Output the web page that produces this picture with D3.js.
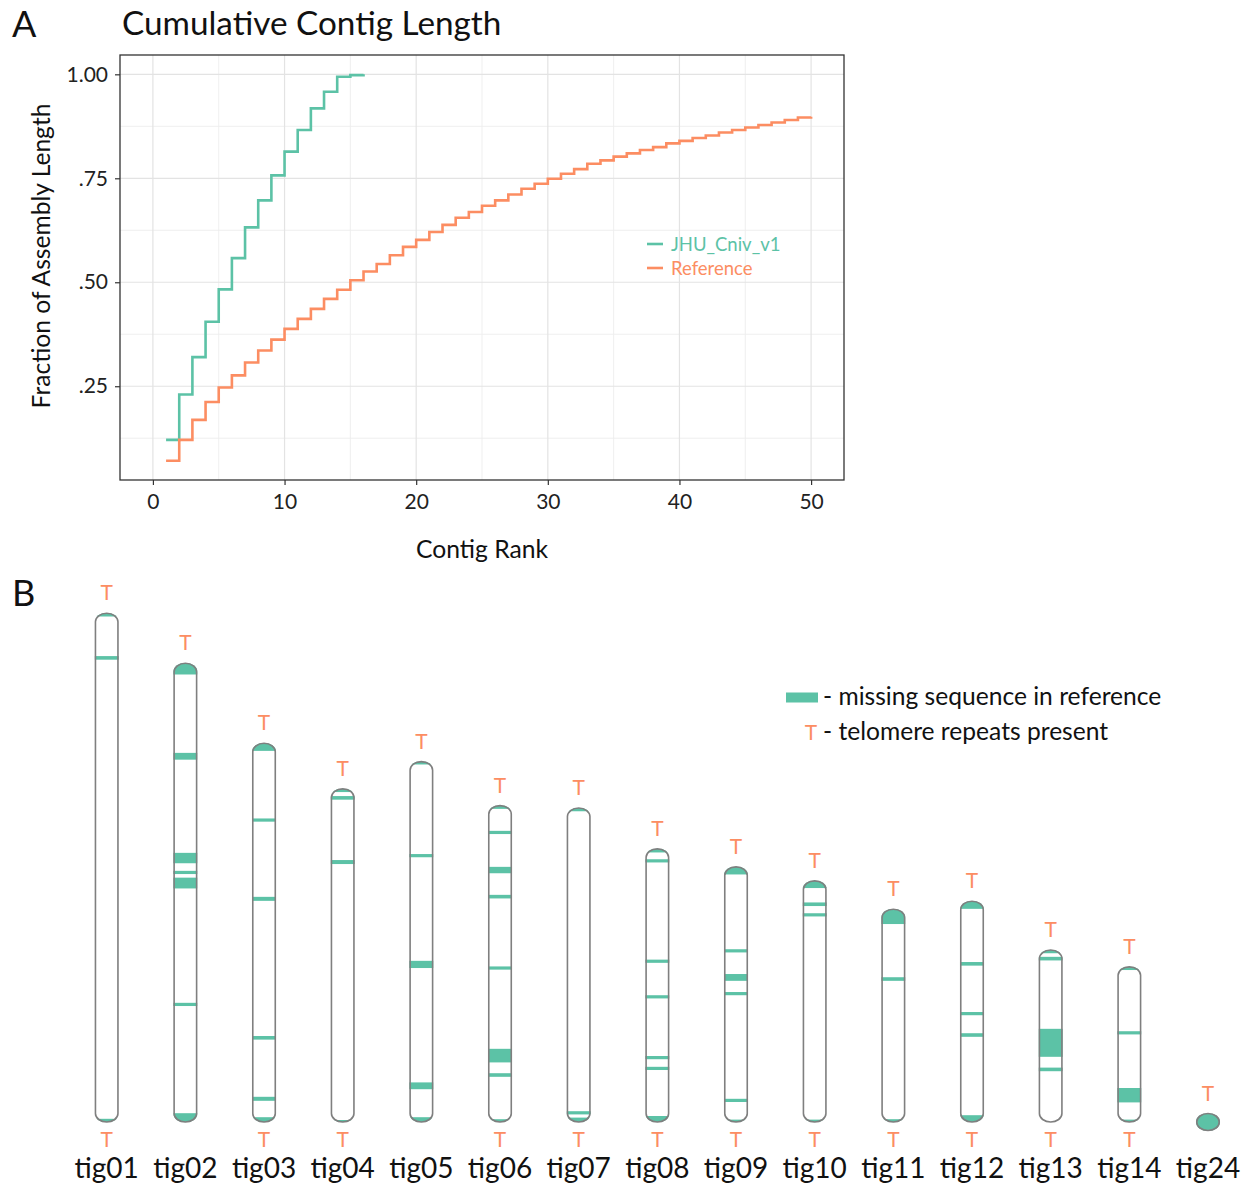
<!DOCTYPE html>
<html><head><meta charset="utf-8">
<script src="https://cdn.jsdelivr.net/npm/d3@7"></script>
<style>
body{margin:0;background:#fff;}
svg text{font-family:Lato,"Open Sans",sans-serif;}
</style>
</head><body>
<svg id="chart" width="1249" height="1187"></svg>
<script>
// ---------- Panel A data ----------
const seriesNames = ["JHU_Cniv_v1", "Reference"];
const seriesColors = ["#5cc2a6", "#fc8d62"];
const jhuValues = [0.121,0.230,0.320,0.405,0.483,0.558,0.632,0.697,0.757,0.814,0.866,0.918,0.958,0.994,0.998,1.000];
const refValues = [0.071,0.121,0.169,0.212,0.247,0.276,0.307,0.336,0.362,0.388,
                   0.412,0.436,0.460,0.482,0.505,0.526,0.544,0.565,0.585,0.602,
                   0.621,0.638,0.655,0.669,0.684,0.697,0.711,0.725,0.737,0.749,
                   0.761,0.772,0.785,0.793,0.802,0.810,0.818,0.825,0.834,0.840,
                   0.847,0.853,0.860,0.866,0.872,0.878,0.884,0.890,0.896,0.898];
const xTickValues = [0,10,20,30,40,50];
const xMinorValues = [5,15,25,35,45];
const yTickValues = [0.25,0.50,0.75,1.00];
const yTickLabels = [".25",".50",".75","1.00"];
const yMinorValues = [0.125,0.375,0.625,0.875];

// ---------- Panel B data ----------
const contigNames = ["tig01","tig02","tig03","tig04","tig05","tig06","tig07","tig08","tig09","tig10","tig11","tig12","tig13","tig14","tig24"];
const contigLengths = [12.72,11.47,9.47,8.33,9.01,7.91,7.85,6.83,6.38,6.03,5.32,5.52,4.30,3.88,0.42];
const missingBands = [
  [[0,0.08],[1.07,1.16],[12.64,12.72]],
  [[0,0.28],[2.24,2.41],[4.74,5.00],[5.19,5.27],[5.36,5.63],[8.49,8.57],[11.25,11.47]],
  [[0,0.19],[1.88,1.96],[3.84,3.94],[7.32,7.41],[8.84,8.94],[9.35,9.47]],
  [[0,0.08],[0.18,0.27],[1.78,1.88],[8.28,8.33]],
  [[0,0.07],[2.31,2.39],[4.98,5.16],[8.02,8.19],[8.89,9.01]],
  [[0,0.08],[0.63,0.71],[1.53,1.69],[2.23,2.32],[4.02,4.10],[6.08,6.42],[6.69,6.78],[7.84,7.91]],
  [[0,0.08],[7.58,7.66],[7.74,7.85]],
  [[0,0.09],[0.26,0.34],[2.77,2.85],[3.66,3.74],[5.18,5.26],[5.45,5.53],[6.68,6.83]],
  [[0,0.19],[2.06,2.14],[2.68,2.85],[3.13,3.21],[5.80,5.88],[6.32,6.38]],
  [[0,0.18],[0.54,0.63],[0.81,0.89],[5.97,6.03]],
  [[0,0.37],[1.70,1.79],[5.25,5.32]],
  [[0,0.19],[1.52,1.61],[2.77,2.85],[3.30,3.39],[5.35,5.52]],
  [[0,0.08],[0.17,0.26],[1.97,2.67],[2.94,3.03]],
  [[0,0.08],[1.61,1.69],[3.03,3.39],[3.82,3.88]],
  [[0,0.42]]
];
const telomereTop    = [1,1,1,1,1,1,1,1,1,1,1,1,1,1,1];
const telomereBottom = [1,0,1,1,0,1,1,1,1,1,1,1,1,1,0];
const legendBLabels = ["- missing sequence in reference", "- telomere repeats present"];

// ---------- drawing ----------
const svg = d3.select("#chart");
const green = seriesColors[0], orange = seriesColors[1];

// ===== Panel A =====
const pL = 120, pR = 844, pT = 55, pB = 480;
const x = d3.scaleLinear().domain([-2.5, 52.5]).range([pL, pR]);
const allVals = jhuValues.concat(refValues);
const yMin = d3.min(allVals), yMax = d3.max(allVals), ex = (yMax - yMin) * 0.05;
const y = d3.scaleLinear().domain([yMin - ex, yMax + ex]).range([pB, pT]);

const gA = svg.append("g");
// grid
gA.append("g").selectAll("line").data(xMinorValues).join("line")
  .attr("x1", d => x(d)).attr("x2", d => x(d)).attr("y1", pT).attr("y2", pB)
  .attr("stroke", "#ededed").attr("stroke-width", 0.9);
gA.append("g").selectAll("line").data(yMinorValues).join("line")
  .attr("y1", d => y(d)).attr("y2", d => y(d)).attr("x1", pL).attr("x2", pR)
  .attr("stroke", "#ededed").attr("stroke-width", 0.9);
gA.append("g").selectAll("line").data(xTickValues).join("line")
  .attr("x1", d => x(d)).attr("x2", d => x(d)).attr("y1", pT).attr("y2", pB)
  .attr("stroke", "#e3e3e3").attr("stroke-width", 1.2);
gA.append("g").selectAll("line").data(yTickValues).join("line")
  .attr("y1", d => y(d)).attr("y2", d => y(d)).attr("x1", pL).attr("x2", pR)
  .attr("stroke", "#e3e3e3").attr("stroke-width", 1.2);

// lines
const line = d3.line().x(d => x(d[0])).y(d => y(d[1])).curve(d3.curveStepAfter);
const series = [jhuValues, refValues];
series.forEach((vals, i) => {
  gA.append("path").datum(vals.map((v, j) => [j + 1, v]))
    .attr("d", line).attr("fill", "none")
    .attr("stroke", seriesColors[i]).attr("stroke-width", 2.6);
});

// border
gA.append("rect").attr("x", pL).attr("y", pT).attr("width", pR - pL).attr("height", pB - pT)
  .attr("fill", "none").attr("stroke", "#333").attr("stroke-width", 1.3);

// axes
const xAxis = d3.axisBottom(x).tickValues(xTickValues).tickSize(5).tickPadding(9).tickFormat(d3.format("d"));
const gx = gA.append("g").attr("transform", `translate(0,${pB})`).call(xAxis);
gx.select(".domain").remove();
gx.selectAll(".tick line").attr("stroke", "#333").attr("stroke-width", 1.2);
gx.selectAll(".tick text").attr("font-size", 21).attr("fill", "#222").attr("font-family", "Lato");

const yAxis = d3.axisLeft(y).tickValues(yTickValues).tickSize(5).tickPadding(7)
  .tickFormat((d, i) => yTickLabels[i]);
const gy = gA.append("g").attr("transform", `translate(${pL},0)`).call(yAxis);
gy.select(".domain").remove();
gy.selectAll(".tick line").attr("stroke", "#333").attr("stroke-width", 1.2);
gy.selectAll(".tick text").attr("font-size", 21).attr("fill", "#222").attr("font-family", "Lato");

// titles
svg.append("text").attr("x", 12).attr("y", 37).attr("font-size", 36).attr("fill", "#111").text("A");
svg.append("text").attr("x", 122).attr("y", 35).attr("font-size", 33.3).attr("fill", "#111").text("Cumulative Contig Length");
svg.append("text").attr("x", 482).attr("y", 558).attr("text-anchor", "middle")
  .attr("font-size", 24.7).attr("fill", "#111").text("Contig Rank");
svg.append("text").attr("transform", "translate(50,256) rotate(-90)").attr("text-anchor", "middle")
  .attr("font-size", 24.6).attr("fill", "#111").text("Fraction of Assembly Length");

// legend A
const legA = gA.append("g");
seriesNames.forEach((n, i) => {
  const ly = 244 + i * 24;
  legA.append("line").attr("x1", 647).attr("x2", 663).attr("y1", ly).attr("y2", ly)
    .attr("stroke", seriesColors[i]).attr("stroke-width", 2.6);
  legA.append("text").attr("x", 671).attr("y", ly + 6.5).attr("font-size", 18.5)
    .attr("fill", seriesColors[i]).text(n);
});

// ===== Panel B =====
svg.append("text").attr("x", 12).attr("y", 606).attr("font-size", 36).attr("fill", "#111").text("B");

const cxScale = d3.scalePoint().domain(contigNames).range([106.7, 1208]);
const maxLen = d3.max(contigLengths);
const lenScale = d3.scaleLinear().domain([0, maxLen]).range([0, 508.7]);
const baseY = 1122, cw = 22.5, ry = 8.5;
const defs = svg.append("defs");
const gB = svg.append("g");

contigNames.forEach((name, i) => {
  const cx = cxScale(name);
  let h = lenScale(contigLengths[i]);
  let top, hh;
  if (h <= 2 * ry + 1) { top = baseY - ry; hh = 2 * ry; } else { top = baseY - h; hh = h; }
  const clipId = "clip" + i;
  defs.append("clipPath").attr("id", clipId).append("rect")
    .attr("x", cx - cw / 2 - 0.8).attr("y", top - 0.8).attr("width", cw + 1.6).attr("height", hh + 1.6)
    .attr("rx", cw / 2 + 0.8).attr("ry", ry + 0.8);
  const g = gB.append("g");
  g.append("rect").attr("x", cx - cw / 2).attr("y", top).attr("width", cw).attr("height", hh)
    .attr("rx", cw / 2).attr("ry", ry).attr("fill", "#fff");
  const bandScale = d3.scaleLinear().domain([0, contigLengths[i]]).range([top, top + hh]);
  g.append("g").attr("clip-path", `url(#${clipId})`).selectAll("rect").data(missingBands[i]).join("rect")
    .attr("x", cx - cw / 2 - 1).attr("width", cw + 2)
    .attr("y", d => bandScale(d[0])).attr("height", d => Math.max(0.5, bandScale(d[1]) - bandScale(d[0])))
    .attr("fill", green);
  g.append("rect").attr("x", cx - cw / 2).attr("y", top).attr("width", cw).attr("height", hh)
    .attr("rx", cw / 2).attr("ry", ry).attr("fill", "none").attr("stroke", "#7f7f7f").attr("stroke-width", 1.6);
  if (telomereTop[i]) {
    g.append("text").attr("x", cx).attr("y", top - 13).attr("text-anchor", "middle")
      .attr("font-size", 21).attr("fill", orange).text("T");
  }
  if (telomereBottom[i]) {
    g.append("text").attr("x", cx).attr("y", baseY + 25).attr("text-anchor", "middle")
      .attr("font-size", 21).attr("fill", orange).text("T");
  }
  g.append("text").attr("x", cx).attr("y", 1178).attr("text-anchor", "middle")
    .attr("font-size", 28).attr("fill", "#111").text(name);
});

// legend B
const legB = svg.append("g");
legB.append("rect").attr("x", 786).attr("y", 692.5).attr("width", 32).attr("height", 10).attr("fill", green);
legB.append("text").attr("x", 823).attr("y", 704.5).attr("font-size", 24.6).attr("fill", "#111").text(legendBLabels[0]);
legB.append("text").attr("x", 811).attr("y", 740).attr("text-anchor", "middle").attr("font-size", 21)
  .attr("fill", orange).text("T");
legB.append("text").attr("x", 823).attr("y", 740).attr("font-size", 24.6).attr("fill", "#111").text(legendBLabels[1]);
</script>
</body></html>
